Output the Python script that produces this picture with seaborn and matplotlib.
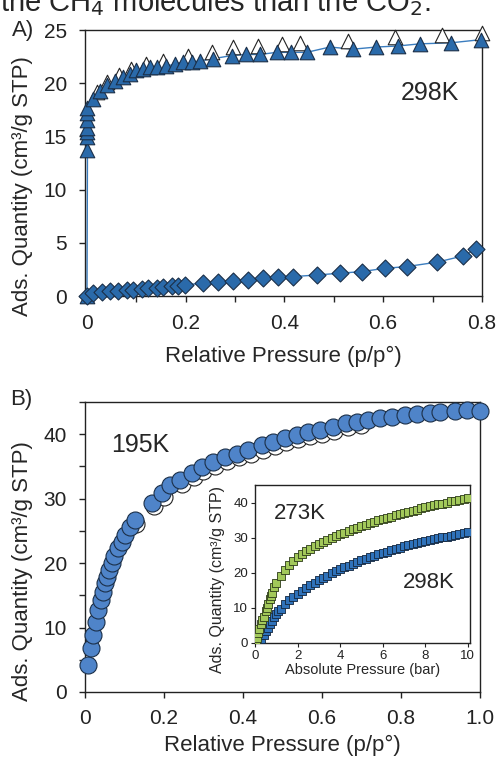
import numpy as np
import pandas as pd
import matplotlib
matplotlib.use("Agg")
import matplotlib.pyplot as plt
from matplotlib.ticker import MultipleLocator
import seaborn as sns

# Panel A, CO2 at 298K (adsorption / desorption) and CH4 (diamonds)
a_ads_x = [0.0, 0.001, 0.001, 0.001, 0.001, 0.001, 0.001, 0.001, 0.013, 0.026, 0.040, 0.057,
           0.073, 0.087, 0.100, 0.114, 0.128, 0.141, 0.161, 0.178, 0.195, 0.212, 0.229,
           0.255, 0.293, 0.323, 0.350, 0.384, 0.414, 0.445, 0.492, 0.539, 0.586, 0.630,
           0.674, 0.738, 0.799]
a_ads_y = [0.0, 13.7, 14.9, 15.4, 15.8, 16.5, 17.2, 17.7, 18.5, 19.3, 19.8, 20.2,
           20.6, 20.9, 21.2, 21.3, 21.5, 21.5, 21.6, 21.8, 22.0, 22.0, 22.1,
           22.3, 22.6, 22.7, 22.7, 22.9, 22.9, 22.9, 23.4, 23.2, 23.4, 23.5,
           23.7, 23.8, 24.1]
a_des_x = [0.020, 0.040, 0.065, 0.090, 0.120, 0.154, 0.205, 0.253, 0.296, 0.346, 0.395,
           0.431, 0.528, 0.623, 0.720, 0.800]
a_des_y = [19.2, 20.1, 20.8, 21.3, 21.8, 22.1, 22.6, 22.9, 23.4, 23.5, 23.7,
           23.8, 24.0, 24.3, 24.5, 24.7]
a_ch4_x = [0.0, 0.012, 0.030, 0.047, 0.063, 0.081, 0.093, 0.111, 0.124, 0.142, 0.154, 0.172,
           0.184, 0.198, 0.235, 0.265, 0.296, 0.326, 0.356, 0.387, 0.417, 0.466, 0.512,
           0.557, 0.603, 0.648, 0.709, 0.762, 0.789]
a_ch4_y = [0.0, 0.25, 0.35, 0.45, 0.50, 0.55, 0.60, 0.65, 0.72, 0.80, 0.85, 0.90,
           0.95, 1.05, 1.20, 1.30, 1.40, 1.50, 1.67, 1.76, 1.82, 1.98, 2.14,
           2.30, 2.60, 2.77, 3.18, 3.77, 4.43]

# Panel B, CO2 at 195K
b_ads_x = [0.008, 0.015, 0.020, 0.028, 0.033, 0.041, 0.046, 0.051, 0.056, 0.061, 0.068, 0.073,
           0.084, 0.094, 0.101, 0.114, 0.127, 0.170, 0.195, 0.215, 0.240, 0.270, 0.296,
           0.325, 0.354, 0.385, 0.413, 0.448, 0.476, 0.506, 0.536, 0.565, 0.595, 0.628,
           0.660, 0.690, 0.716, 0.747, 0.777, 0.810, 0.840, 0.873, 0.900, 0.937, 0.967, 1.0]
b_ads_y = [4.2, 6.8, 8.8, 10.9, 12.7, 14.3, 15.5, 16.9, 17.8, 18.9, 20.0, 21.1,
           22.3, 23.3, 24.3, 25.6, 26.7, 29.3, 30.9, 32.1, 32.9, 34.0, 34.9,
           35.7, 36.4, 37.0, 37.5, 38.3, 38.8, 39.4, 39.8, 40.3, 40.6, 41.1,
           41.7, 41.9, 42.2, 42.5, 42.6, 42.9, 43.2, 43.3, 43.4, 43.6, 43.7, 43.6]
b_des_x = [0.130, 0.175, 0.200, 0.245, 0.275, 0.300, 0.330, 0.360, 0.390, 0.420, 0.450,
           0.480, 0.510, 0.540, 0.570, 0.600, 0.630, 0.665, 0.700]
b_des_y = [26.1, 28.8, 30.3, 32.3, 33.4, 34.3, 35.1, 35.8, 36.4, 36.9, 37.6,
           38.2, 38.8, 39.2, 39.7, 40.0, 40.5, 41.1, 41.4]

# Inset, CO2 at 273K and 298K up to 10 bar
in_273_x = [0.05, 0.10, 0.15, 0.20, 0.30, 0.35, 0.40, 0.50, 0.55, 0.60, 0.70, 0.75, 0.80, 0.90,
            1.0, 1.2, 1.4, 1.6, 1.8, 2.0, 2.2, 2.4, 2.6, 2.8, 3.0, 3.2, 3.4, 3.6, 3.8, 4.0,
            4.2, 4.4, 4.6, 4.8, 5.0, 5.2, 5.4, 5.6, 5.8, 6.0, 6.2, 6.4, 6.6, 6.8, 7.0,
            7.2, 7.4, 7.6, 7.8, 8.0, 8.2, 8.4, 8.6, 8.8, 9.0, 9.2, 9.4, 9.6, 9.8, 10.0]
in_273_y = [0.3, 1.5, 2.8, 4.0, 5.5, 6.5, 7.5, 9.0, 10.0, 11.0, 12.5, 13.3, 14.2, 15.8,
            17.2, 19.2, 20.8, 22.1, 23.4, 24.5, 25.4, 26.1, 26.8, 27.5, 28.1, 28.7, 29.3, 29.9, 30.4, 30.9,
            31.4, 31.9, 32.4, 32.8, 33.3, 33.7, 34.1, 34.5, 34.9, 35.3, 35.7, 36.0, 36.4, 36.7, 37.1,
            37.4, 37.7, 38.0, 38.3, 38.6, 38.9, 39.2, 39.5, 39.7, 40.0, 40.3, 40.5, 40.8, 41.0, 41.3]
in_298_x = [0.20, 0.25, 0.30, 0.40, 0.50, 0.60, 0.70, 0.80, 0.90, 1.0, 1.1, 1.2, 1.4, 1.6, 1.8,
            2.0, 2.2, 2.4, 2.6, 2.8, 3.0, 3.2, 3.4, 3.6, 3.8, 4.0, 4.2, 4.4, 4.6, 4.8, 5.0,
            5.2, 5.4, 5.6, 5.8, 6.0, 6.2, 6.4, 6.6, 6.8, 7.0, 7.2, 7.4, 7.6, 7.8, 8.0,
            8.2, 8.4, 8.6, 8.8, 9.0, 9.2, 9.4, 9.6, 9.8, 10.0]
in_298_y = [0.0, 0.5, 1.2, 2.2, 3.3, 4.3, 5.3, 6.3, 7.3, 8.2, 9.0, 9.8, 11.0, 12.1, 13.1,
            14.0, 14.9, 15.7, 16.5, 17.2, 17.9, 18.6, 19.2, 19.8, 20.4, 21.0, 21.5, 22.0, 22.5, 23.0, 23.5,
            23.9, 24.4, 24.8, 25.2, 25.6, 26.0, 26.4, 26.8, 27.1, 27.5, 27.8, 28.1, 28.4, 28.7, 29.0,
            29.3, 29.6, 29.8, 30.1, 30.3, 30.6, 30.8, 31.1, 31.3, 31.6]

a_yticks = [0, 5, 10, 15, 20, 25]
a_xticks = [0, 0.2, 0.4, 0.6, 0.8]
a_xlabels = ["0", "0.2", "0.4", "0.6", "0.8"]
b_yticks = [0, 10, 20, 30, 40]
b_xticks = [0, 0.2, 0.4, 0.6, 0.8, 1.0]
b_xlabels = ["0", "0.2", "0.4", "0.6", "0.8", "1.0"]
in_xticks = [0, 2, 4, 6, 8, 10]
in_yticks = [0, 10, 20, 30, 40]

sns.set_style("ticks")
plt.rcParams["font.family"] = ["Liberation Sans", "DejaVu Sans"]
plt.rcParams["axes.linewidth"] = 1.0

blue_dark = "#2a6aaa"
edge = "#1b2f48"
ylab = "Ads. Quantity (cm³/g STP)"

fig = plt.figure(figsize=(5.03, 7.6), dpi=100)

# ----- panel A -----
axA = fig.add_axes([0.169, 0.6105, 0.789, 0.35])
sns.lineplot(x=a_ads_x, y=a_ads_y, ax=axA, color="#3b7dbf", lw=1.0, sort=False, estimator=None)
sns.lineplot(x=a_ch4_x, y=a_ch4_y, ax=axA, color="#3b7dbf", lw=1.0, sort=False, estimator=None)
sns.scatterplot(x=a_des_x, y=a_des_y, ax=axA, marker="^", s=110, color="white",
                edgecolor="#222222", linewidth=0.8, clip_on=False, zorder=3)
sns.scatterplot(x=a_ads_x, y=a_ads_y, ax=axA, marker="^", s=110, color=blue_dark,
                edgecolor=edge, linewidth=0.8, clip_on=False, zorder=4)
sns.scatterplot(x=a_ch4_x, y=a_ch4_y, ax=axA, marker="D", s=75, color=blue_dark,
                edgecolor=edge, linewidth=0.8, clip_on=False, zorder=4)
axA.set_xlim(-0.004, 0.8)
axA.set_ylim(0, 25)
axA.set_xticks(a_xticks)
axA.set_xticklabels(a_xlabels)
axA.xaxis.set_minor_locator(MultipleLocator(0.1))
axA.set_yticks(a_yticks)
axA.text(0.869, 0.763, "298K", transform=axA.transAxes, fontsize=18, ha="center", va="center")
axA.set_xlabel("Relative Pressure (p/p°)", fontsize=16, labelpad=9)
axA.set_ylabel(ylab, fontsize=16)
axA.yaxis.set_label_coords(-0.131, 0.414)

# ----- panel B -----
axB = fig.add_axes([0.169, 0.0895, 0.785, 0.3816])
sns.scatterplot(x=b_des_x, y=b_des_y, ax=axB, marker="o", s=150, color="white",
                edgecolor="#222222", linewidth=0.8, clip_on=False, zorder=3)
sns.scatterplot(x=b_ads_x, y=b_ads_y, ax=axB, marker="o", s=150, color="#4f84c9",
                edgecolor=edge, linewidth=0.8, clip_on=False, zorder=4)
axB.set_xlim(0, 1.0)
axB.set_ylim(0, 45)
axB.set_xticks(b_xticks)
axB.set_xticklabels(b_xlabels)
axB.set_yticks(b_yticks)
axB.yaxis.set_minor_locator(MultipleLocator(5))
axB.text(0.14, 0.852, "195K", transform=axB.transAxes, fontsize=18, ha="center", va="center")
axB.set_xlabel("Relative Pressure (p/p°)", fontsize=16, labelpad=5)
axB.set_ylabel(ylab, fontsize=16)
axB.yaxis.set_label_coords(-0.132, 0.417)

for ax in (axA, axB):
    for s in ax.spines.values():
        s.set_visible(True)
        s.set_color("#222222")
    ax.tick_params(which="major", labelsize=15, length=4, width=1, pad=9, colors="#222222")
    ax.tick_params(which="minor", length=4, width=1)
axB.tick_params(axis="x", which="major", pad=8)

# ----- inset -----
axI = fig.add_axes([0.507, 0.154, 0.4274, 0.2079])
sns.scatterplot(x=in_298_x, y=in_298_y, ax=axI, marker="s", s=28, color="#2f72ba",
                edgecolor="#13263d", linewidth=0.6, zorder=3)
sns.scatterplot(x=in_273_x, y=in_273_y, ax=axI, marker="s", s=28, color="#a2c85a",
                edgecolor="#2c3a18", linewidth=0.6, zorder=4)
axI.set_xlim(0, 10.1)
axI.set_ylim(0, 45)
axI.set_xticks(in_xticks)
axI.set_yticks(in_yticks)
for s in axI.spines.values():
    s.set_visible(True)
    s.set_color("#222222")
axI.tick_params(labelsize=9.5, length=3, width=0.8, pad=2, colors="#222222")
axI.text(0.21, 0.82, "273K", transform=axI.transAxes, fontsize=16, ha="center", va="center")
axI.text(0.81, 0.38, "298K", transform=axI.transAxes, fontsize=16, ha="center", va="center")
axI.set_xlabel("Absolute Pressure (bar)", fontsize=10.5, labelpad=1)
axI.set_ylabel(ylab, fontsize=11.5)
axI.yaxis.set_label_coords(-0.14, 0.40)

# panel tags and the clipped caption line from the page
fig.text(0.024, 0.96, "A)", fontsize=16, ha="left", va="center")
fig.text(0.02, 0.474, "B)", fontsize=16, ha="left", va="center")
fig.text(0.0, 0.9855, "the CH$_4$ molecules than the CO$_2$.", fontsize=21, ha="left", va="baseline")

fig.savefig("out.png", dpi=100, facecolor="white")
